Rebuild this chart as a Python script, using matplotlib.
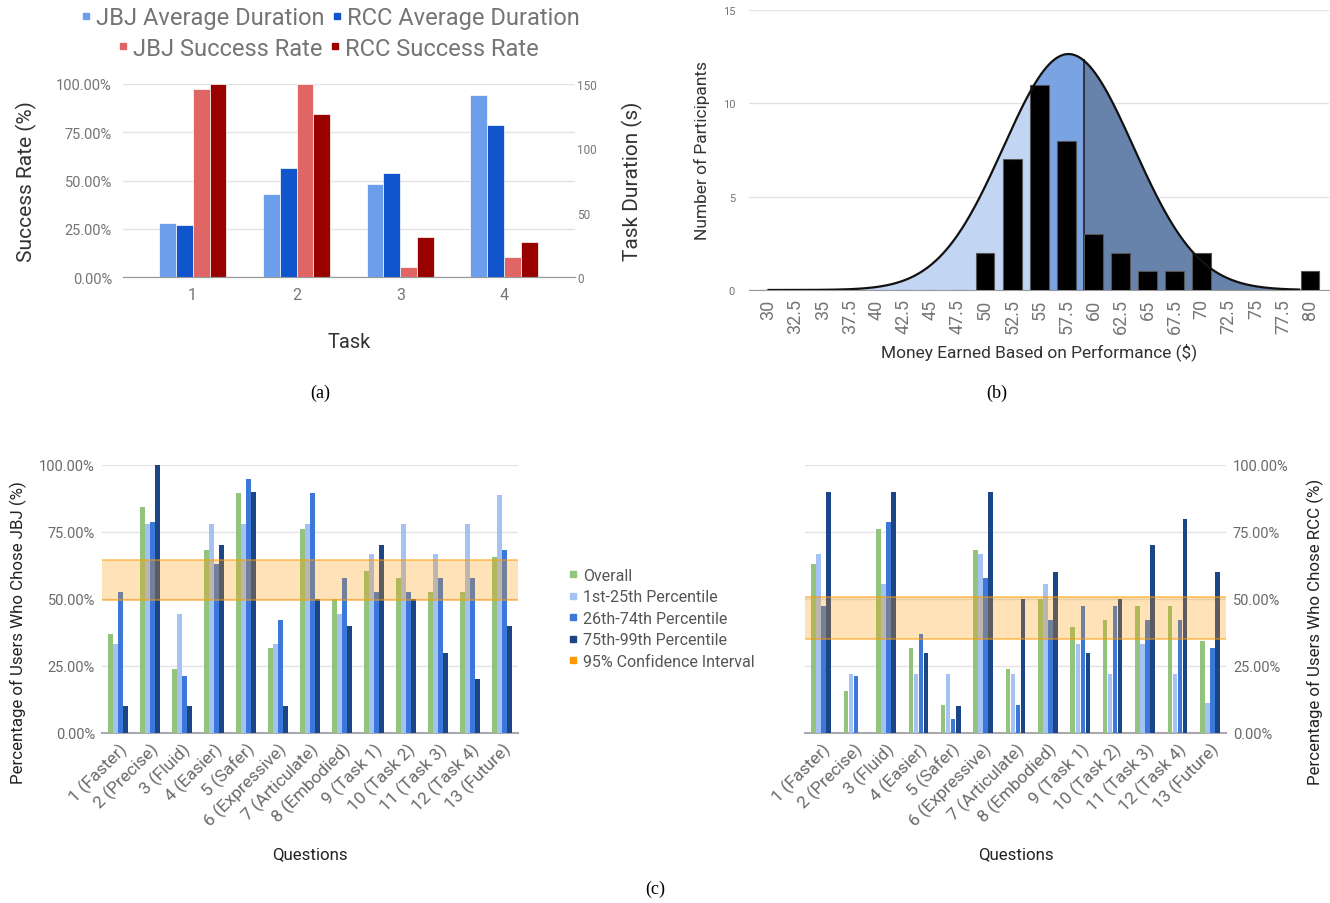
import numpy as np
import matplotlib.pyplot as plt
from matplotlib.lines import Line2D
from matplotlib.ticker import FuncFormatter

plt.rcParams['font.family'] = ['Roboto', 'DejaVu Sans']

# ---- (a) task success / duration
tasks = ['1', '2', '3', '4']
jbj_duration = [42.0, 64.3, 72.5, 141.2]
rcc_duration = [40.2, 84.7, 80.8, 117.9]
jbj_success = [0.972, 1.0, 0.052, 0.104]
rcc_success = [1.0, 0.843, 0.207, 0.181]

# ---- (b) money earned
money_labels = ['30', '32.5', '35', '37.5', '40', '42.5', '45', '47.5', '50', '52.5', '55',
                '57.5', '60', '62.5', '65', '67.5', '70', '72.5', '75', '77.5', '80']
participants = [0, 0, 0, 0, 0, 0, 0, 0, 2, 7, 11, 8, 3, 2, 1, 1, 2, 0, 0, 0, 1]
# fitted normal curve
curve_mean = 57.7
curve_sd = 6.0
curve_peak = 12.64
curve_start, curve_end = 30.0, 79.0
split_low = 54.4
split_high = 59.1

# ---- (c) questionnaire
questions = ['1 (Faster)', '2 (Precise)', '3 (Fluid)', '4 (Easier)', '5 (Safer)',
             '6 (Expressive)', '7 (Articulate)', '8 (Embodied)', '9 (Task 1)',
             '10 (Task 2)', '11 (Task 3)', '12 (Task 4)', '13 (Future)']
group_names = ['Overall', '1st-25th Percentile', '26th-74th Percentile', '75th-99th Percentile']
jbj_overall = [36.8, 84.2, 23.7, 68.4, 89.5, 31.6, 76.3, 50.0, 60.5, 57.9, 52.6, 52.6, 65.8]
jbj_p1_25 = [33.3, 77.8, 44.4, 77.8, 77.8, 33.3, 77.8, 44.4, 66.7, 77.8, 66.7, 77.8, 88.9]
jbj_p26_74 = [52.6, 78.9, 21.1, 63.2, 94.7, 42.1, 89.5, 57.9, 52.6, 52.6, 57.9, 57.9, 68.4]
jbj_p75_99 = [10, 100, 10, 70, 90, 10, 50, 40, 70, 50, 30, 20, 40]
jbj_ci = [49.8, 64.6]
rcc_overall = [63.2, 15.8, 76.3, 31.6, 10.5, 68.4, 23.7, 50.0, 39.5, 42.1, 47.4, 47.4, 34.2]
rcc_p1_25 = [66.7, 22.2, 55.6, 22.2, 22.2, 66.7, 22.2, 55.6, 33.3, 22.2, 33.3, 22.2, 11.1]
rcc_p26_74 = [47.4, 21.1, 78.9, 36.8, 5.3, 57.9, 10.5, 42.1, 47.4, 47.4, 42.1, 42.1, 31.6]
rcc_p75_99 = [90, 0, 90, 30, 10, 90, 50, 60, 30, 50, 70, 80, 60]
rcc_ci = [35.2, 50.9]

TICK = '#757575'
TITLE = '#333333'
GRID = '#e3e3e3'

fig = plt.figure(figsize=(13.3, 9.04), dpi=100)
W, H = 1330.0, 904.0

def box(l, t, r, b):
    return [l / W, 1 - b / H, (r - l) / W, (b - t) / H]

# ================= (a)
ax1 = fig.add_axes(box(123, 85, 575, 278))
ax2 = ax1.twinx()
x = np.arange(1, len(tasks) + 1)
w = 0.163
ax2.bar(x - 1.5 * w, jbj_duration, w, color='#6d9eeb', edgecolor='white', linewidth=0.5, zorder=3)
ax2.bar(x - 0.5 * w, rcc_duration, w, color='#1155cc', edgecolor='white', linewidth=0.5, zorder=3)
ax1.bar(x + 0.5 * w, jbj_success, w, color='#e06666', edgecolor='white', linewidth=0.5, zorder=3)
ax1.bar(x + 1.5 * w, rcc_success, w, color='#990000', edgecolor='white', linewidth=0.5, zorder=3)
ax1.set_xlim(0.33, 4.68)
ax1.set_ylim(0, 1)
ax2.set_ylim(0, 150)
ax1.set_yticks([0, 0.25, 0.5, 0.75, 1.0])
ax1.yaxis.set_major_formatter(FuncFormatter(lambda v, p: '%.2f%%' % (v * 100)))
ax2.set_yticks([0, 50, 100, 150])
ax1.set_xticks(x)
ax1.set_xticklabels(tasks)
ax1.grid(axis='y', color=GRID, linewidth=1)
ax1.set_axisbelow(True)
for a in (ax1, ax2):
    for s in ('top', 'left', 'right'):
        a.spines[s].set_visible(False)
    a.spines['bottom'].set_color('#999999')
    a.tick_params(length=0, colors=TICK)
ax1.tick_params(axis='y', labelsize=10.5, pad=8)
ax1.tick_params(axis='x', labelsize=11.5, pad=7)
ax2.tick_params(axis='y', labelsize=8.5, pad=1.5)
ax1.set_ylabel('Success Rate (%)', fontsize=15, color=TITLE, labelpad=14)
ax2.set_ylabel('Task Duration (s)', fontsize=15, color=TITLE, labelpad=18)
ax1.set_xlabel('Task', fontsize=14.5, color=TITLE, labelpad=22)

def sq(c):
    return Line2D([], [], marker='s', color=c, linestyle='none', markersize=5)

leg_kw = dict(loc='center', ncol=2, frameon=False, fontsize=17, handlelength=0.5,
              handletextpad=0.15, columnspacing=0.3, labelcolor='#757575', borderpad=0)
fig.legend([sq('#6d9eeb'), sq('#1155cc')], ['JBJ Average Duration', 'RCC Average Duration'],
           bbox_to_anchor=(330 / W, 1 - 19 / H), **leg_kw)
fig.legend([sq('#e06666'), sq('#990000')], ['JBJ Success Rate', 'RCC Success Rate'],
           bbox_to_anchor=(328 / W, 1 - 49 / H), **leg_kw)

# ================= (b)
axb = fig.add_axes(box(749, 11, 1329, 291))
pos = np.arange(len(money_labels))
xm = np.linspace(curve_start, curve_end, 600)
ym = curve_peak * np.exp(-0.5 * ((xm - curve_mean) / curve_sd) ** 2)
xi = (xm - 30) / 2.5
lo = xm <= split_low
mid = (xm >= split_low) & (xm <= split_high)
hi = xm >= split_high
axb.fill_between(xi[lo], 0, ym[lo], color='#c2d6f4', linewidth=0, zorder=2)
axb.fill_between(xi[mid], 0, ym[mid], color='#7aa3e2', linewidth=0, zorder=2)
axb.fill_between(xi[hi], 0, ym[hi], color='#6782ab', linewidth=0, zorder=2)
vh = curve_peak * np.exp(-0.5 * ((split_high - curve_mean) / curve_sd) ** 2)
axb.plot([(split_high - 30) / 2.5] * 2, [0, vh], color='#1a1a2a', linewidth=1.2, zorder=3)
axb.bar(pos, participants, 0.69, color='black', edgecolor='#555555', linewidth=0.8, zorder=4)
axb.plot(xi, ym, color='#111111', linewidth=1.6, zorder=5)
axb.set_xlim(-0.72, 20.7)
axb.set_ylim(0, 15)
axb.set_yticks([0, 5, 10, 15])
axb.set_xticks(pos)
axb.set_xticklabels(money_labels, rotation=90)
axb.grid(axis='y', color=GRID, linewidth=1)
axb.set_axisbelow(True)
for s in ('top', 'left', 'right'):
    axb.spines[s].set_visible(False)
axb.spines['bottom'].set_color('#999999')
axb.tick_params(length=0, colors=TICK)
axb.tick_params(axis='y', labelsize=8, pad=10)
axb.tick_params(axis='x', labelsize=13, pad=6)
axb.set_ylabel('Number of Participants', fontsize=12.5, color=TITLE, labelpad=9)
axb.set_xlabel('Money Earned Based on Performance ($)', fontsize=12.5, color=TITLE, labelpad=6)

# ================= (c)
colors_c = ['#93c47d', '#a4c2f4', '#3c78d8', '#1c4587']

def question_chart(ax, series, ci, side, ylabel):
    xq = np.arange(len(questions))
    bw = 0.155
    for k, vals in enumerate(series):
        ax.bar(xq + (k - 1.5) * bw, np.array(vals) / 100.0, bw * 0.9, color=colors_c[k],
               zorder=3, label=group_names[k])
    ax.axhspan(ci[0] / 100.0, ci[1] / 100.0, facecolor='#ff9900', alpha=0.28,
               edgecolor='none', zorder=4)
    for v in ci:
        ax.axhline(v / 100.0, color='#ff9900', alpha=0.55, linewidth=1.3, zorder=4)
    ax.set_xlim(-0.5, len(questions) - 0.5)
    ax.set_ylim(0, 1)
    ax.set_yticks([0, 0.25, 0.5, 0.75, 1.0])
    ax.yaxis.set_major_formatter(FuncFormatter(lambda v, p: '%.2f%%' % (v * 100)))
    ax.set_xticks(xq)
    ax.set_xticklabels(questions, rotation=45, ha='right', rotation_mode='anchor')
    ax.grid(axis='y', color=GRID, linewidth=1)
    ax.set_axisbelow(True)
    for s in ('top', 'left', 'right'):
        ax.spines[s].set_visible(False)
    ax.spines['bottom'].set_color('#aaaaaa')
    ax.spines['bottom'].set_linewidth(1.5)
    ax.tick_params(length=0, colors='#6a6a6a')
    ax.tick_params(axis='y', labelsize=10.5, pad=5)
    ax.tick_params(axis='x', labelsize=12.5, pad=5)
    if side == 'right':
        ax.yaxis.tick_right()
        ax.yaxis.set_label_position('right')
        ax.set_ylabel(ylabel, fontsize=12.2, color='#222222', labelpad=13, rotation=90,
                      va='top')
    else:
        ax.set_ylabel(ylabel, fontsize=12.2, color='#222222', labelpad=9)
    ax.yaxis.label.set_y(0.38)
    ax.set_xlabel('Questions', fontsize=12.2, color='#222222', labelpad=12)

axl = fig.add_axes(box(102, 466, 518, 734))
question_chart(axl, [jbj_overall, jbj_p1_25, jbj_p26_74, jbj_p75_99], jbj_ci, 'left',
               'Percentage of Users Who Chose JBJ (%)')
axr = fig.add_axes(box(805, 466, 1226, 734))
question_chart(axr, [rcc_overall, rcc_p1_25, rcc_p26_74, rcc_p75_99], rcc_ci, 'right',
               'Percentage of Users Who Chose RCC (%)')

handles_c = [sq(c) for c in colors_c] + [sq('#ff9900')]
fig.legend(handles_c, group_names + ['95% Confidence Interval'], loc='upper left',
           bbox_to_anchor=(561 / W, 1 - 561 / H), frameon=False, fontsize=11.5,
           handlelength=0.5, handletextpad=0.4, labelspacing=0.4, labelcolor='#555555',
           borderpad=0)

# captions
cap = dict(family=['Liberation Serif', 'DejaVu Serif'], fontsize=13, ha='center', va='center')
fig.text(320 / W, 1 - 393 / H, '(a)', **cap)
fig.text(997 / W, 1 - 393 / H, '(b)', **cap)
fig.text(655 / W, 1 - 889 / H, '(c)', **cap)

fig.savefig('out.png', dpi=100)
